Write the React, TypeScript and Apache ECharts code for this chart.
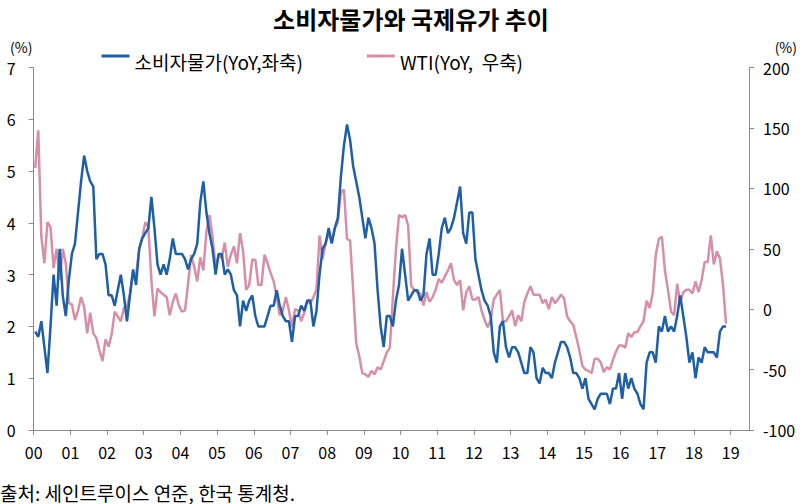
import React, { useEffect, useRef } from "react";
import * as echarts from "echarts";

const FONT = "'Noto Sans CJK KR', 'Noto Sans', sans-serif";
const BLUE = "#1F5FA3";
const PINK = "#D68FA9";
const AXIS = "#8A8A8A";

const title = "소비자물가와 국제유가 추이";
const cpiName = "소비자물가(YoY,좌축)";
const wtiName = "WTI(YoY,  우축)";
const source = "출처: 세인트루이스 연준, 한국 통계청.";
const yearLabels = ["00","01","02","03","04","05","06","07","08","09","10","11","12","13","14","15","16","17","18","19"];

// Monthly YoY (%), Jan 2000 - Nov 2018
const cpi = [
  1.9, 1.8, 2.1, 1.6, 1.1, 2.0, 3.0, 2.4, 3.5, 2.6, 2.2, 2.9,
  3.4, 3.6, 4.2, 4.8, 5.3, 5.0, 4.8, 4.7, 3.3, 3.4, 3.4, 3.2,
  2.6, 2.6, 2.4, 2.7, 3.0, 2.6, 2.1, 2.6, 3.1, 2.8, 3.5, 3.7,
  3.8, 3.9, 4.5, 3.9, 3.2, 3.0, 3.2, 3.0, 3.3, 3.7, 3.4, 3.4,
  3.4, 3.3, 3.1, 3.3, 3.4, 3.6, 4.4, 4.8, 4.2, 3.8, 3.5, 3.0,
  3.4, 3.4, 3.0, 3.1, 3.0, 2.7, 2.6, 2.0, 2.5, 2.3, 2.5, 2.6,
  2.2, 2.0, 2.0, 2.0, 2.2, 2.4, 2.4, 2.7, 2.4, 2.2, 2.1, 2.1,
  1.7, 2.2, 2.2, 2.4, 2.3, 2.5, 2.5, 2.0, 2.3, 3.0, 3.5, 3.6,
  3.9, 3.6, 3.9, 4.1, 4.9, 5.5, 5.9, 5.6, 5.1, 4.8, 4.5, 4.1,
  3.7, 4.1, 3.9, 3.6, 2.7, 2.0, 1.6, 2.2, 2.2, 2.0, 2.5, 2.8,
  3.5, 3.0, 2.5, 2.6, 2.7, 2.7, 2.5, 2.6, 3.4, 3.7, 3.0, 3.0,
  3.4, 3.9, 4.1, 3.8, 3.9, 4.1, 4.4, 4.7, 3.8, 3.6, 4.2, 4.2,
  3.3, 3.0, 2.7, 2.5, 2.4, 2.2, 1.5, 1.3, 2.0, 2.1, 1.6, 1.4,
  1.6, 1.6, 1.5, 1.3, 1.1, 1.1, 1.6, 1.5, 1.0, 0.9, 1.2, 1.1,
  1.1, 1.0, 1.3, 1.5, 1.7, 1.7, 1.6, 1.4, 1.1, 1.1, 1.0, 0.8,
  1.0, 0.6, 0.5, 0.4, 0.6, 0.7, 0.7, 0.7, 0.5, 0.8, 0.8, 1.1,
  0.6, 1.1, 0.8, 1.0, 0.8, 0.7, 0.5, 0.4, 1.3, 1.5, 1.5, 1.3,
  2.0, 1.9, 2.2, 1.9, 2.0, 1.9, 2.2, 2.6, 2.2, 1.8, 1.3, 1.5,
  1.0, 1.4, 1.3, 1.6, 1.5, 1.5, 1.5, 1.4, 1.9, 2.0, 2.0,
];

const wti = [
  117, 148, 60, 38, 72, 68, 34, 50, 24, 50, 38, 5,
  4, -9, -1, 10, 2, -20, -3, -20, -24, -34, -43, -25,
  -31, -21, -2, -6, -10, 1, 2, 13, 30, 29, 49, 59,
  72, 68, 24, -6, 17, 14, 12, 10, -5, 6, 13, 3,
  -2, -1, 21, 45, 35, 23, 43, 32, 64, 78, 60, 35,
  45, 42, 55, 35, 45, 52, 38, 63, 48, 16, 20, 41,
  41, 20, 20, 45, 38, 30, 23, 10, -5, -1, 10, -1,
  -15, 0, -1, -10, -3, 6, 5, 10, 16, 61, 41, 55,
  63, 55, 67, 72, 97, 99, 58, 57, 16, -28, -39, -53,
  -54, -56, -51, -54, -48, -50, -43, -36, -32, 10, 49, 78,
  76, 78, 69, 19, 16, 14, 13, 3, 14, 6, 10, 16,
  25, 22, 27, 32, 38, 24, 20, 24, -1, 14, 19, 8,
  8, 10, -1, -9, -15, -9, 8, 12, 16, -10, -10, -6,
  -1, -14, -5, -10, 6, 13, 19, 12, 12, 12, 5, 8,
  0, 10, 5, 8, 12, 9, -6, -10, -13, -23, -34, -47,
  -50, -51, -53, -41, -41, -44, -52, -48, -50, -42, -35, -30,
  -30, -32, -20, -23, -19, -19, -14, -10, 7, 1, 13, 45,
  58, 60, 32, 16, -2, -5, 21, 5, 14, 16, 16, 13,
  23, 14, 24, 39, 39, 61, 37, 48, 42, 20, -12,
];

// legend marker: a thin bar sitting in the upper part of the item box
const LEGEND_ICON = "path://M0,0h28v3h-28zM0,13.9h0.05v0.05h-0.05z";

export default function App() {
  const ref = useRef<HTMLDivElement>(null);
  useEffect(() => {
    const chart = echarts.init(ref.current!, null, { renderer: "svg" });
    const monthX = (i: number) => (i + 0.5) / 12;
    const axisCommon = {
      axisLine: { show: true, lineStyle: { color: AXIS, width: 1 } },
      axisTick: { show: true, length: 5, lineStyle: { color: AXIS, width: 1 } },
      splitLine: { show: false },
    };
    chart.setOption({
      animation: false,
      backgroundColor: "#fff",
      textStyle: { fontFamily: FONT },
      legend: {
        top: 52,
        left: 101.5,
        padding: 0,
        itemGap: 64,
        itemWidth: 28,
        itemHeight: 14,
        icon: LEGEND_ICON,
        textStyle: { fontFamily: FONT, fontSize: 19, color: "#000" },
        data: [cpiName, wtiName],
      },
      grid: { left: 33.7, right: 51, top: 67.5, bottom: 74 },
      xAxis: {
        type: "value",
        min: 0,
        max: 19.5,
        interval: 1,
        ...axisCommon,
        axisLine: { show: true, onZero: false, lineStyle: { color: AXIS, width: 1 } },
        axisLabel: {
          margin: 14,
          fontSize: 16,
          color: "#000",
          fontFamily: FONT,
          showMaxLabel: false,
          formatter: (v: number) => (Number.isInteger(v) && v >= 0 && v < yearLabels.length ? yearLabels[v] : ""),
        },
      },
      yAxis: [
        {
          type: "value",
          position: "left",
          min: 0,
          max: 7,
          interval: 1,
          ...axisCommon,
          axisLabel: { margin: 18, fontSize: 16, color: "#000", fontFamily: FONT },
        },
        {
          type: "value",
          position: "right",
          min: -100,
          max: 200,
          interval: 50,
          ...axisCommon,
          axisLabel: { margin: 14, fontSize: 16, color: "#000", fontFamily: FONT },
        },
      ],
      series: [
        {
          name: cpiName,
          type: "line",
          yAxisIndex: 0,
          data: cpi.map((v, i) => [monthX(i), v]),
          showSymbol: false,
          symbol: "none",
          lineStyle: { width: 2.5, color: BLUE },
          itemStyle: { color: BLUE },
          z: 3,
        },
        {
          name: wtiName,
          type: "line",
          yAxisIndex: 1,
          data: wti.map((v, i) => [monthX(i), v]),
          showSymbol: false,
          symbol: "none",
          lineStyle: { width: 2.5, color: PINK },
          itemStyle: { color: PINK },
          z: 2,
        },
      ],
      graphic: [
        {
          type: "text",
          x: 411,
          y: 18,
          style: {
            text: title,
            fontFamily: FONT,
            fontSize: 24,
            fontWeight: "bold",
            fill: "#000",
            align: "center",
            verticalAlign: "middle",
          },
        },
        {
          type: "text",
          x: 10,
          y: 47,
          style: { text: "(%)", fontFamily: FONT, fontSize: 14, fill: "#000", verticalAlign: "middle" },
        },
        {
          type: "text",
          x: 797,
          y: 47,
          style: { text: "(%)", fontFamily: FONT, fontSize: 14, fill: "#000", align: "right", verticalAlign: "middle" },
        },
        {
          type: "text",
          x: 0,
          y: 492,
          style: { text: source, fontFamily: FONT, fontSize: 19, fill: "#000", verticalAlign: "middle" },
        },
      ],
    });
    return () => chart.dispose();
  }, []);
  return (
    <div
      ref={ref}
      style={{ position: "fixed", left: 0, top: 0, width: 800, height: 504, background: "#fff" }}
    />
  );
}
